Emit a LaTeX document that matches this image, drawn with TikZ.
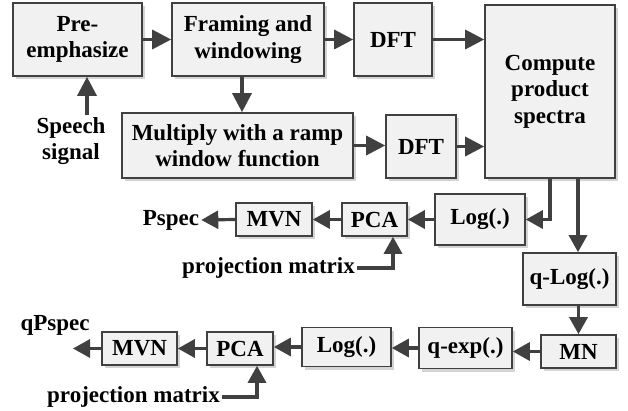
\documentclass[tikz,border=0pt]{standalone}
\usepackage{fontspec}
\setmainfont{Liberation Serif}
\usetikzlibrary{arrows.meta,shadows}
\definecolor{edgec}{HTML}{404040}
\definecolor{boxfill}{HTML}{F1F1F1}
\definecolor{shadowc}{HTML}{D4D4D4}
\tikzset{
  blk/.style={draw=edgec, line width=1.6pt, fill=boxfill, inner sep=0pt, align=center,
    drop shadow={shadow xshift=3pt, shadow yshift=-3pt, fill=shadowc, opacity=1},
    font=\fontsize{23}{26.5}\selectfont\bfseries},
  lbl/.style={inner sep=2pt, align=center, font=\fontsize{23}{26.5}\selectfont\bfseries},
  arr/.style={draw=edgec, line width=3.2pt, -{Triangle[length=19pt,width=19pt]}},
  arrs/.style={draw=edgec, line width=3.2pt, -{Triangle[length=17pt,width=18pt]}},
}
\begin{document}
\begin{tikzpicture}[x=1pt,y=-1pt]
\useasboundingbox (0,0) rectangle (628,411);
% row 1
\node[blk, minimum width=129pt, minimum height=73pt] (pre) at (77.5,39.5) {Pre-\\emphasize};
\node[blk, minimum width=152pt, minimum height=73pt] (frame) at (248,39.5) {Framing and\\windowing};
\node[blk, minimum width=78pt, minimum height=73pt] (dft1) at (393,39.5) {DFT};
\node[blk, minimum width=130pt, minimum height=173pt] (comp) at (550,91.5) {Compute\\product\\spectra};
\node[blk, minimum width=231pt, minimum height=65pt] (mult) at (237.5,145.5) {Multiply with a ramp\\window function};
\node[blk, minimum width=70pt, minimum height=63pt] (dft2) at (421,146.5) {DFT};
\node[lbl] (speech) at (71,141) {Speech\\signal};
% row 2
\node[blk, minimum width=90pt, minimum height=51pt] (log1) at (480,219.5) {Log(.)};
\node[blk, minimum width=65pt, minimum height=33pt] (pca1) at (374.5,219.5) {PCA};
\node[blk, minimum width=76pt, minimum height=33pt] (mvn1) at (274,219.5) {MVN};
\node[lbl] (pspec) at (171,220) {Pspec};
\node[lbl] (pm1) at (268.5,268) {projection matrix};
% right column
\node[blk, minimum width=93pt, minimum height=52pt] (qlog) at (569.5,279) {q-Log(.)};
\node[blk, minimum width=75pt, minimum height=33pt] (mn) at (578.5,351.5) {MN};
% row 3
\node[blk, minimum width=93pt, minimum height=41pt] (qexp) at (465.5,348) {q-exp(.)};
\node[blk, minimum width=89pt, minimum height=39pt] (log2) at (346.5,347) {Log(.)};
\node[blk, minimum width=66pt, minimum height=33pt] (pca2) at (240,348.5) {PCA};
\node[blk, minimum width=75pt, minimum height=33pt] (mvn2) at (139.5,348.5) {MVN};
\node[lbl] (qpspec) at (55,325) {qPspec};
\coordinate (qend) at (73,348.5);
\node[lbl] (pm2) at (133.5,397) {projection matrix};
% connectors
\draw[arr] (pre.east) -- (frame.west);
\draw[arr] (frame.east) -- (dft1.west);
\draw[arr] (dft1.east) -- (dft1.east -| comp.west);
\draw[arr] ([xshift=-6pt]frame.south) -- ([xshift=-6pt]frame.south |- mult.north);
\draw[arr] ([xshift=9.5pt]pre.south |- speech.north) -- ([xshift=9.5pt]pre.south);
\draw[arr] (mult.east) -- (mult.east -| dft2.west);
\draw[arr] (dft2.east) -- (dft2.east -| comp.west);
\draw[arrs] (comp.south) |- (log1.east);
\draw[arrs] ([xshift=28pt]comp.south) -- ([xshift=28pt]comp.south |- qlog.north);
\draw[arrs] (log1.west) -- (pca1.east);
\draw[arrs] (pca1.west) -- (mvn1.east);
\draw[arrs] (mvn1.west) -- (pspec.east);
\draw[arrs] (pm1.east) -| ([xshift=18.5pt]pca1.south);
\draw[arrs] (mn.north |- qlog.south) -- (mn.north);
\draw[arrs] (mn.west) -- (mn.west -| qexp.east);
\draw[arrs] (qexp.west) -- (qexp.west -| log2.east);
\draw[arrs] (log2.west) -- (log2.west -| pca2.east);
\draw[arrs] (pca2.west) -- (mvn2.east);
\draw[arrs] (mvn2.west) -- (qend);
\draw[arrs] (pm2.east) -| ([xshift=17pt]pca2.south);
\end{tikzpicture}
\end{document}
